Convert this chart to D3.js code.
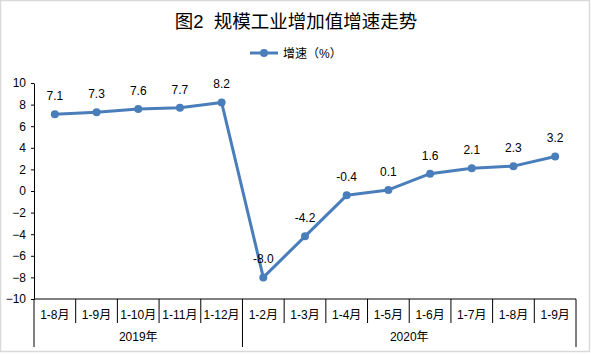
<!DOCTYPE html>
<html>
<head>
<meta charset="utf-8">
<script src="https://cdn.jsdelivr.net/npm/d3@7"></script>
<style>
	body{ margin:0; background:#fff; }
	svg text{ font-family:"Liberation Sans","Noto Sans CJK SC",sans-serif; fill:#000; }
</style>
</head>
<body>
<svg id="chart"></svg>
<script>
// data
const categories = ["1-8月","1-9月","1-10月","1-11月","1-12月","1-2月","1-3月","1-4月","1-5月","1-6月","1-7月","1-8月","1-9月"];
const years = ["2019年","2020年"];
const yearOf = [0,0,0,0,0,1,1,1,1,1,1,1,1];
const growth = [7.1,7.3,7.6,7.7,8.2,-8.0,-4.2,-0.4,0.1,1.6,2.1,2.3,3.2];
const yTicks = [-10,-8,-6,-4,-2,0,2,4,6,8,10];
const seriesName = "增速（%）";
const title = "图2  规模工业增加值增速走势";

const W = 591, H = 354;
const plotLeft = 34, plotRight = 576, plotTop = 83, plotBottom = 299;
const blue = "#4a7ebb";

let svg = d3.select("#chart").attr("width", W).attr("height", H);

// outer frame
svg.append("rect")
	.attr("x", 0.5).attr("y", 0.5)
	.attr("width", W-2).attr("height", H-3)
	.attr("fill", "none").attr("stroke", "#d9d9d9").attr("stroke-width", 1.5);

// keys are indices because category names repeat
let x = d3.scaleBand()
	.domain(d3.range(categories.length))
	.range([plotLeft, plotRight]);
let y = d3.scaleLinear()
	.domain([-10, 10])
	.range([plotBottom, plotTop]);

svg.append("text")
	.attr("x", 296).attr("y", 28)
	.attr("text-anchor", "middle")
	.style("font-size", "18.5px")
	.style("white-space", "pre")
	.text(title);

// legend
let lg = svg.append("g").attr("transform", "translate(250,53)");
lg.append("line").attr("x1", 0).attr("x2", 28)
	.attr("stroke", blue).attr("stroke-width", 3);
lg.append("circle").attr("cx", 14).attr("r", 4).attr("fill", blue);
lg.append("text").attr("x", 33).attr("y", 4.5)
	.style("font-size", "12px").text(seriesName);

// y axis
let yAxis = svg.append("g")
	.attr("transform", "translate("+plotLeft+",0)")
	.call(d3.axisLeft(y).tickValues(yTicks).tickSize(3).tickSizeOuter(0).tickPadding(5));
yAxis.selectAll("text").style("font-size", "12px").attr("fill", "#000");
yAxis.selectAll("line,path").attr("stroke", "#000");

// x axis line
svg.append("line")
	.attr("x1", plotLeft).attr("x2", plotRight)
	.attr("y1", plotBottom).attr("y2", plotBottom)
	.attr("stroke", "#000");

// category separators; longer at year boundaries
let bounds = d3.range(categories.length + 1);
svg.selectAll("line.sep")
	.data(bounds)
	.join("line")
	.attr("class", "sep")
	.attr("x1", i => i < categories.length ? x(i) : plotRight)
	.attr("x2", i => i < categories.length ? x(i) : plotRight)
	.attr("y1", plotBottom)
	.attr("y2", i => (i == 0 || i == categories.length || yearOf[i] != yearOf[i-1]) ? 347 : 323)
	.attr("stroke", "#000");

svg.selectAll("text.cat")
	.data(categories)
	.join("text")
	.attr("class", "cat")
	.attr("x", (d, i) => x(i) + x.bandwidth()/2)
	.attr("y", 319)
	.attr("text-anchor", "middle")
	.style("font-size", "12px")
	.text(d => d);

svg.selectAll("text.year")
	.data(years)
	.join("text")
	.attr("class", "year")
	.attr("x", (d, k) => {
		let idx = yearOf.map((v, i) => v == k ? i : -1).filter(i => i >= 0);
		return (x(idx[0]) + x(idx[idx.length-1]) + x.bandwidth())/2;
	})
	.attr("y", 341)
	.attr("text-anchor", "middle")
	.style("font-size", "12px")
	.text(d => d);

// series
let lineGenerator = d3.line()
	.x((d, i) => x(i) + x.bandwidth()/2)
	.y(d => y(d));

svg.append("path")
	.datum(growth)
	.attr("d", lineGenerator)
	.attr("fill", "none")
	.attr("stroke", blue)
	.attr("stroke-width", 3)
	.attr("stroke-linejoin", "round");

svg.selectAll("circle.pt")
	.data(growth)
	.join("circle")
	.attr("class", "pt")
	.attr("cx", (d, i) => x(i) + x.bandwidth()/2)
	.attr("cy", d => y(d))
	.attr("r", 4)
	.attr("fill", blue);

svg.selectAll("text.lbl")
	.data(growth)
	.join("text")
	.attr("class", "lbl")
	.attr("x", (d, i) => x(i) + x.bandwidth()/2)
	.attr("y", d => y(d) - 14)
	.attr("text-anchor", "middle")
	.style("font-size", "12px")
	.text(d => d.toFixed(1));
</script>
</body>
</html>
